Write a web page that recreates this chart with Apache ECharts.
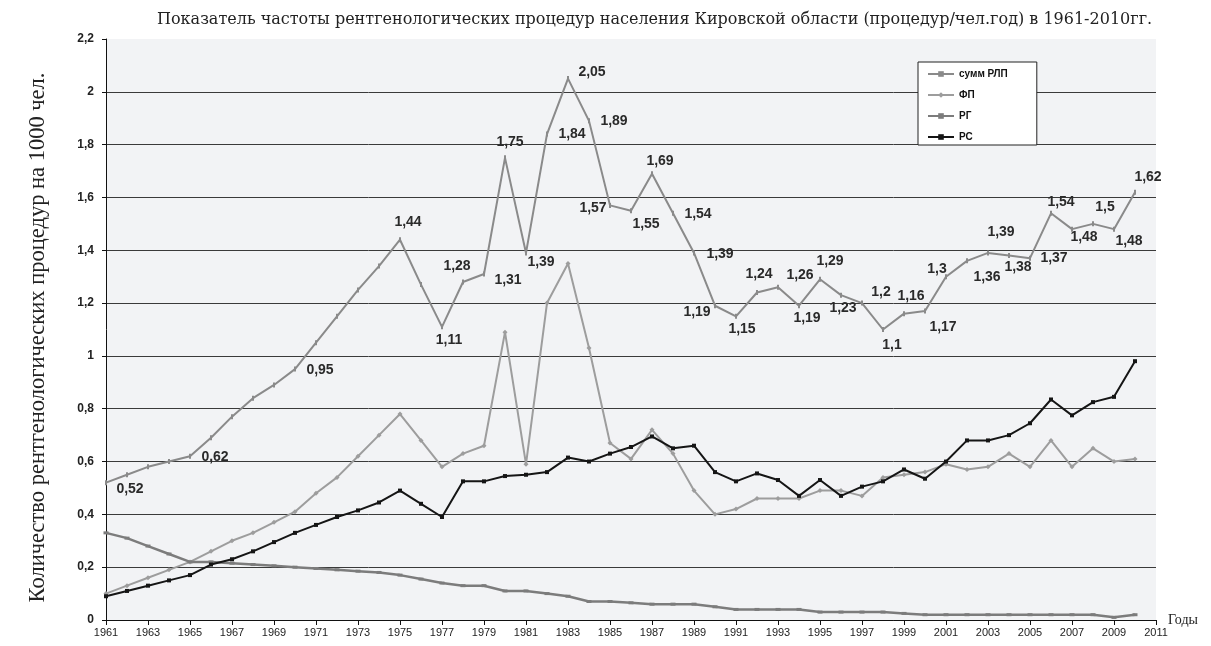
<!DOCTYPE html>
<html>
<head>
<meta charset="utf-8">
<script src="https://cdn.jsdelivr.net/npm/echarts@6/dist/echarts.min.js"></script>
<style>
  html, body { margin: 0; padding: 0; background: #fff; }
  #chart { width: 1211px; height: 646px; }
</style>
</head>
<body>
<div id="chart"></div>
<script>
// годы (ось X идёт до 2011, данные до 2010)
const years = ['1961', '1962', '1963', '1964', '1965', '1966', '1967', '1968', '1969', '1970',
  '1971', '1972', '1973', '1974', '1975', '1976', '1977', '1978', '1979', '1980',
  '1981', '1982', '1983', '1984', '1985', '1986', '1987', '1988', '1989', '1990',
  '1991', '1992', '1993', '1994', '1995', '1996', '1997', '1998', '1999', '2000',
  '2001', '2002', '2003', '2004', '2005', '2006', '2007', '2008', '2009', '2010', '2011'];

// сумм РЛП
const sumRlp = [0.52, 0.55, 0.58, 0.60, 0.62, 0.69, 0.77, 0.84, 0.89, 0.95,
  1.05, 1.15, 1.25, 1.34, 1.44, 1.27, 1.11, 1.28, 1.31, 1.75,
  1.39, 1.84, 2.05, 1.89, 1.57, 1.55, 1.69, 1.54, 1.39, 1.19,
  1.15, 1.24, 1.26, 1.19, 1.29, 1.23, 1.2, 1.1, 1.16, 1.17,
  1.3, 1.36, 1.39, 1.38, 1.37, 1.54, 1.48, 1.5, 1.48, 1.62];

// ФП
const fp = [0.10, 0.13, 0.16, 0.19, 0.22, 0.26, 0.30, 0.33, 0.37, 0.41,
  0.48, 0.54, 0.62, 0.70, 0.78, 0.68, 0.58, 0.63, 0.66, 1.09,
  0.59, 1.20, 1.35, 1.03, 0.67, 0.61, 0.72, 0.63, 0.49, 0.40,
  0.42, 0.46, 0.46, 0.46, 0.49, 0.49, 0.47, 0.54, 0.55, 0.56,
  0.59, 0.57, 0.58, 0.63, 0.58, 0.68, 0.58, 0.65, 0.60, 0.61];

// РГ
const rg = [0.33, 0.31, 0.28, 0.25, 0.22, 0.22, 0.215, 0.21, 0.205, 0.20,
  0.195, 0.19, 0.185, 0.18, 0.17, 0.155, 0.14, 0.13, 0.13, 0.11,
  0.11, 0.10, 0.09, 0.07, 0.07, 0.065, 0.06, 0.06, 0.06, 0.05,
  0.04, 0.04, 0.04, 0.04, 0.03, 0.03, 0.03, 0.03, 0.025, 0.02,
  0.02, 0.02, 0.02, 0.02, 0.02, 0.02, 0.02, 0.02, 0.01, 0.02];

// РС
const rs = [0.09, 0.11, 0.13, 0.15, 0.17, 0.21, 0.23, 0.26, 0.295, 0.33,
  0.36, 0.39, 0.415, 0.445, 0.49, 0.44, 0.39, 0.525, 0.525, 0.545,
  0.55, 0.56, 0.615, 0.60, 0.63, 0.655, 0.695, 0.65, 0.66, 0.56,
  0.525, 0.555, 0.53, 0.47, 0.53, 0.47, 0.505, 0.525, 0.57, 0.535,
  0.60, 0.68, 0.68, 0.70, 0.745, 0.835, 0.775, 0.825, 0.845, 0.98];

// где стоят подписи у линии суммы (сдвиг от точки)
const sumLabelOffset = {
  1961: [24, 6], 1965: [25, 1], 1970: [25, 1], 1975: [8, -18], 1977: [7, 13],
  1978: [-6, -16], 1979: [24, 6], 1980: [5, -16], 1981: [15, 9], 1982: [25, 0],
  1983: [24, -6], 1984: [25, 0], 1985: [-17, 3], 1986: [15, 13], 1987: [8, -13],
  1988: [25, 1], 1989: [26, 1], 1990: [-18, 6], 1991: [6, 13], 1992: [2, -18],
  1993: [22, -12], 1994: [8, 12], 1995: [10, -18], 1996: [2, 13], 1997: [19, -11],
  1998: [9, 16], 1999: [7, -18], 2000: [18, 16], 2001: [-9, -8], 2002: [20, 16],
  2003: [13, -21], 2004: [9, 12], 2005: [24, 0], 2006: [10, -11], 2007: [12, 8],
  2008: [12, -17], 2009: [15, 12], 2010: [13, -15]
};

const comma = v => String(+(+v).toFixed(2)).replace('.', ',');

const sumData = sumRlp.map((v, i) => {
  const off = sumLabelOffset[years[i]];
  if (!off) return v;
  return { value: v, label: { show: true, position: 'inside', offset: off } };
});

let myChart = echarts.init(document.getElementById('chart'));
myChart.setOption({
  backgroundColor: '#fff',
  animation: false,
  title: {
    text: 'Показатель частоты рентгенологических процедур населения Кировской области (процедур/чел.год) в 1961-2010гг.',
    left: 152,
    top: 7,
    textStyle: { fontFamily: 'DejaVu Serif', fontSize: 16, fontWeight: 'normal', color: '#222' }
  },
  legend: {
    orient: 'vertical',
    left: 918,
    top: 62,
    selectedMode: false,
    backgroundColor: '#fff',
    borderColor: '#222',
    borderWidth: 1,
    padding: [7, 29, 3, 9],
    itemGap: 11,
    itemWidth: 26,
    itemHeight: 7,
    textStyle: { fontFamily: 'Liberation Sans', fontSize: 10, fontWeight: 'bold', color: '#111' },
    data: ['сумм РЛП', 'ФП', 'РГ', 'РС']
  },
  grid: {
    left: 106,
    right: 55,
    top: 39,
    bottom: 26,
    show: true,
    backgroundColor: '#f2f3f5',
    borderWidth: 0
  },
  xAxis: {
    type: 'category',
    boundaryGap: false,
    data: years,
    name: 'Годы',
    nameLocation: 'end',
    nameGap: 12,
    nameTextStyle: { fontFamily: 'Liberation Serif', fontSize: 14, color: '#222', padding: [26, 0, 0, 0] },
    axisLine: { lineStyle: { color: '#111', width: 1 } },
    axisTick: { interval: 1, length: 5, lineStyle: { color: '#111' } },
    axisLabel: { interval: 1, margin: 7, fontFamily: 'Liberation Sans', fontSize: 11, color: '#222' },
    splitLine: { show: false }
  },
  yAxis: {
    type: 'value',
    min: 0,
    max: 2.2,
    interval: 0.2,
    name: 'Количество рентгенологических процедур на 1000 чел.',
    nameLocation: 'middle',
    nameGap: 56,
    nameTextStyle: { fontFamily: 'Liberation Serif', fontSize: 22.5, color: '#222', padding: [0, 16, 0, 0] },
    axisLine: { show: true, lineStyle: { color: '#111', width: 1 } },
    axisTick: { show: true, length: 4, lineStyle: { color: '#111' } },
    axisLabel: {
      margin: 12,
      fontFamily: 'Liberation Sans',
      fontSize: 12,
      fontWeight: 'bold',
      color: '#222',
      formatter: comma
    },
    splitLine: { show: true, showMaxLine: false, lineStyle: { color: '#3a3a3a', width: 1 } }
  },
  series: [
    {
      name: 'сумм РЛП',
      type: 'line',
      data: sumData,
      symbol: 'rect',
      symbolSize: [2, 5],
      lineStyle: { color: '#8a8a8a', width: 2 },
      itemStyle: { color: '#8a8a8a' },
      label: {
        show: false,
        fontFamily: 'Liberation Sans',
        fontSize: 14,
        fontWeight: 'bold',
        color: '#2a2a2a',
        formatter: p => comma(p.value)
      },
      z: 3
    },
    {
      name: 'ФП',
      type: 'line',
      data: fp,
      symbol: 'diamond',
      symbolSize: 5,
      lineStyle: { color: '#9d9d9d', width: 2 },
      itemStyle: { color: '#9d9d9d' },
      z: 2
    },
    {
      name: 'РГ',
      type: 'line',
      data: rg,
      symbol: 'rect',
      symbolSize: [5, 3],
      lineStyle: { color: '#7c7c7c', width: 2.5 },
      itemStyle: { color: '#7c7c7c' },
      z: 2
    },
    {
      name: 'РС',
      type: 'line',
      data: rs,
      symbol: 'rect',
      symbolSize: 4,
      lineStyle: { color: '#151515', width: 2 },
      itemStyle: { color: '#151515' },
      z: 4
    }
  ]
});
</script>
</body>
</html>
